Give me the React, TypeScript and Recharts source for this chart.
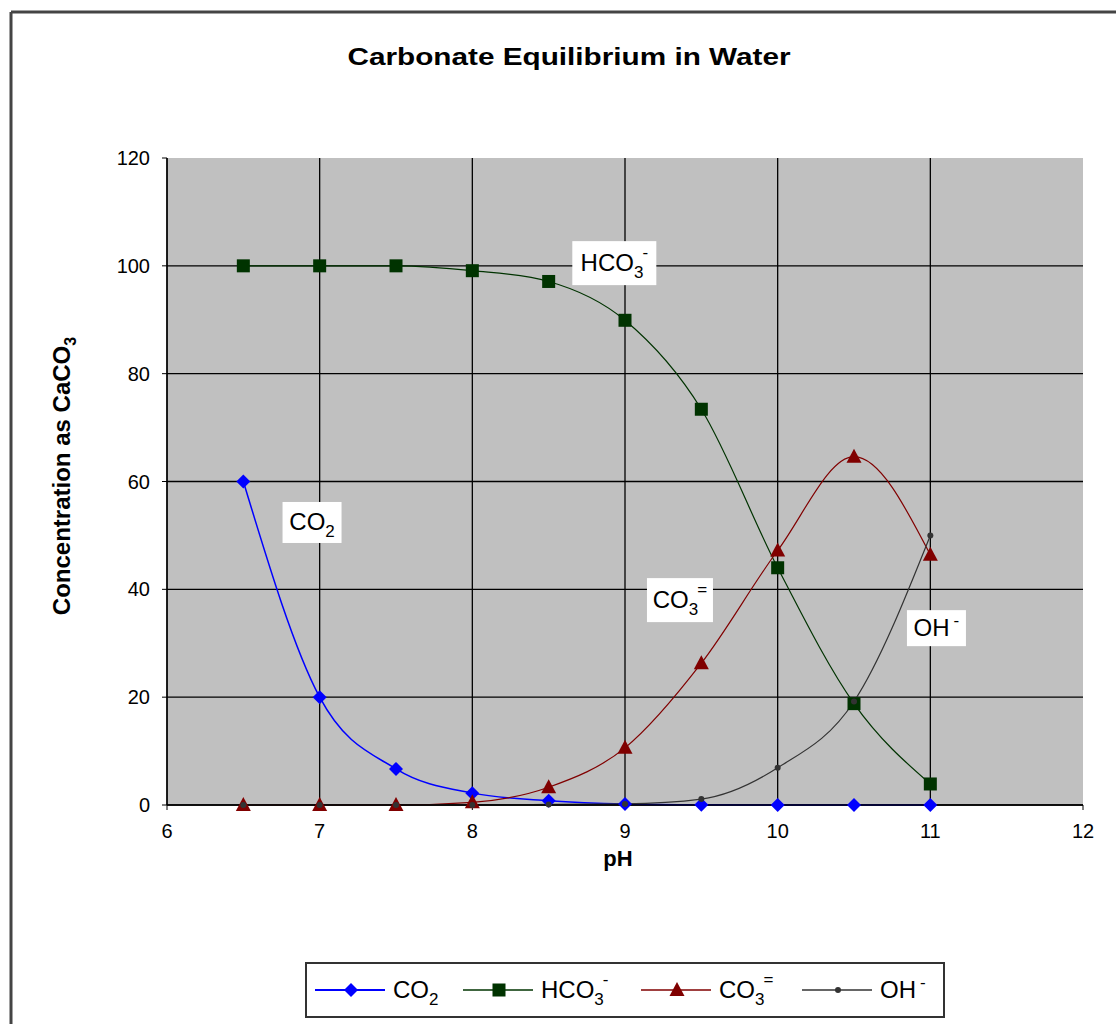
import React from "react"
import {
  LineChart,
  Line,
  XAxis,
  YAxis,
  CartesianGrid,
  Legend,
  ReferenceDot,
} from "recharts"

// pH values sampled
const PH = [6.5, 7, 7.5, 8, 8.5, 9, 9.5, 10, 10.5, 11]

// concentrations (as CaCO3)
const CO2 = [60, 20, 6.7, 2.2, 0.8, 0.2, 0.05, 0, 0, 0]
const HCO3 = [100, 100, 100, 99.1, 97.1, 89.9, 73.4, 44, 18.8, 3.9]
const CO3 = [0, 0, 0, 0.5, 3.3, 10.6, 26.3, 47.2, 64.6, 46.4]
const OH = [0, 0, 0, 0, 0.1, 0.2, 1.1, 6.9, 19.2, 50]

const X_TICKS = [6, 7, 8, 9, 10, 11, 12]
const Y_TICKS = [0, 20, 40, 60, 80, 100, 120]
// grid lines drawn inside the grey area (no line on the top / right edge)
const GRID_X = [6, 7, 8, 9, 10, 11]
const GRID_Y = [0, 20, 40, 60, 80, 100]

// in-plot text boxes, anchored in data units (pH, concentration)
const NOTES = [
  { key: "hco3", x: 8.93, y: 100.5, w: 84, h: 44, base: "HCO", sub: "3", sup: "-" },
  { key: "co2", x: 6.95, y: 52.4, w: 59, h: 41, base: "CO", sub: "2", sup: "" },
  { key: "co3", x: 9.36, y: 38, w: 66, h: 44, base: "CO", sub: "3", sup: "=" },
  { key: "oh", x: 11.04, y: 32.8, w: 59, h: 36, base: "OH", sub: "", sup: "-" },
]

const rows = PH.map((ph, i) => ({
  ph,
  co2: CO2[i],
  hco3: HCO3[i],
  co3: CO3[i],
  oh: OH[i],
}))

const FONT = "'Liberation Sans', Arial, sans-serif"

const BLUE = "#0000ff"
const GREEN = "#003300"
const RED = "#800000"
const GREY = "#333333"

function Diamond({ cx, cy, fill }: any) {
  const s = 7
  return <polygon points={`${cx},${cy - s} ${cx + s},${cy} ${cx},${cy + s} ${cx - s},${cy}`} fill={fill} />
}

function Square({ cx, cy, fill }: any) {
  return <rect x={cx - 6.5} y={cy - 6.5} width={13} height={13} fill={fill} />
}

function Triangle({ cx, cy, fill }: any) {
  return <polygon points={`${cx},${cy - 8} ${cx + 7.5},${cy + 6} ${cx - 7.5},${cy + 6}`} fill={fill} />
}

function SmallDot({ cx, cy, fill }: any) {
  return <circle cx={cx} cy={cy} r={3} fill={fill} />
}

// chemistry-ish label: base + subscript + superscript
function Formula({ x, y, base, sub, sup, size, anchor = "start" }: any) {
  const small = Math.round(size * 0.72)
  return (
    <text x={x} y={y} fontFamily={FONT} fontSize={size} fill="#000" textAnchor={anchor}>
      <tspan>{base}</tspan>
      {sub ? <tspan fontSize={small} dy={7}>{sub}</tspan> : null}
      {sup ? (
        <tspan fontSize={small} dx={sub ? -1 : 4} dy={sub ? -20 : -10}>
          {sup}
        </tspan>
      ) : null}
    </text>
  )
}

function NoteBox(props: any) {
  const { cx, cy, note } = props
  if (cx == null || cy == null) return null
  return (
    <g>
      <rect x={cx - note.w / 2} y={cy - note.h / 2} width={note.w} height={note.h} fill="#fff" />
      <Formula x={cx} y={cy + 8} base={note.base} sub={note.sub} sup={note.sup} size={24} anchor="middle" />
    </g>
  )
}

const LEGEND_ITEMS = [
  { color: BLUE, Mark: Diamond, base: "CO", sub: "2", sup: "", width: 2 },
  { color: GREEN, Mark: Square, base: "HCO", sub: "3", sup: "-", width: 1.5 },
  { color: RED, Mark: Triangle, base: "CO", sub: "3", sup: "=", width: 1.5 },
  { color: GREY, Mark: SmallDot, base: "OH", sub: "", sup: "-", width: 1.5 },
]
const LEGEND_X = [10, 158, 336, 497]

function LegendBox() {
  return (
    <svg width={640} height={56} style={{ display: "block" }}>
      <rect x={1} y={1} width={638} height={54} fill="#fff" stroke="#333" strokeWidth={2} />
      {LEGEND_ITEMS.map((it, i) => {
        const x0 = LEGEND_X[i]
        const Mark = it.Mark
        return (
          <g key={i}>
            <line x1={x0} x2={x0 + 70} y1={28} y2={28} stroke={it.color} strokeWidth={it.width} />
            <Mark cx={x0 + 36} cy={28} fill={it.color} />
            <Formula x={x0 + 78} y={36} base={it.base} sub={it.sub} sup={it.sup} size={24} />
          </g>
        )
      })}
    </svg>
  )
}

const scaleOr = (axis: any, v: number, fallback: number) =>
  axis && typeof axis.scale === "function" ? axis.scale(v) : fallback

export default function App() {
  const tick = { fontSize: 20, fill: "#000", fontFamily: FONT }
  return (
    <div
      style={{
        position: "fixed",
        left: 0,
        top: 0,
        width: 1116,
        height: 1024,
        overflow: "hidden",
        background: "#fff",
      }}
    >
      <LineChart
        width={1116}
        height={1024}
        data={rows}
        margin={{ top: 158, right: 33, left: 107, bottom: 133 }}
      >
        <CartesianGrid
          stroke="#000"
          strokeWidth={1.3}
          fill="#c0c0c0"
          fillOpacity={1}
          verticalCoordinatesGenerator={({ xAxis, offset }: any) =>
            GRID_X.map((v) => scaleOr(xAxis, v, offset.left + (offset.width * (v - 6)) / 6))
          }
          horizontalCoordinatesGenerator={({ yAxis, offset }: any) =>
            GRID_Y.map((v) => scaleOr(yAxis, v, offset.top + offset.height * (1 - v / 120)))
          }
        />
        <XAxis
          type="number"
          dataKey="ph"
          domain={[6, 12]}
          ticks={X_TICKS}
          height={30}
          tick={tick}
          tickSize={5}
          tickMargin={14}
          axisLine={{ stroke: "#000", strokeWidth: 1.3 }}
          tickLine={{ stroke: "#000" }}
        />
        <YAxis
          domain={[0, 120]}
          ticks={Y_TICKS}
          width={60}
          tick={tick}
          tickSize={5}
          tickMargin={12}
          axisLine={{ stroke: "#000", strokeWidth: 1.3 }}
          tickLine={{ stroke: "#000" }}
        />
        <Line
          type="monotone"
          dataKey="co2"
          stroke={BLUE}
          strokeWidth={1.5}
          dot={(p: any) => <Diamond key={p.index} cx={p.cx} cy={p.cy} fill={BLUE} />}
          isAnimationActive={false}
        />
        <Line
          type="monotone"
          dataKey="hco3"
          stroke={GREEN}
          strokeWidth={1.2}
          dot={(p: any) => <Square key={p.index} cx={p.cx} cy={p.cy} fill={GREEN} />}
          isAnimationActive={false}
        />
        <Line
          type="monotone"
          dataKey="co3"
          stroke={RED}
          strokeWidth={1.2}
          dot={(p: any) => <Triangle key={p.index} cx={p.cx} cy={p.cy} fill={RED} />}
          isAnimationActive={false}
        />
        <Line
          type="monotone"
          dataKey="oh"
          stroke={GREY}
          strokeWidth={1.2}
          dot={(p: any) => <SmallDot key={p.index} cx={p.cx} cy={p.cy} fill={GREY} />}
          isAnimationActive={false}
        />
        {NOTES.map((n) => (
          <ReferenceDot
            key={n.key}
            x={n.x}
            y={n.y}
            r={0}
            ifOverflow="visible"
            shape={(p: any) => <NoteBox {...p} note={n} />}
          />
        ))}
        <Legend
          content={() => <LegendBox />}
          wrapperStyle={{ position: "absolute", left: 305, top: 962, width: 640, height: 56 }}
        />
      </LineChart>

      {/* frame, title and axis titles */}
      <svg
        width={1116}
        height={1024}
        style={{ position: "absolute", left: 0, top: 0, pointerEvents: "none" }}
      >
        <line x1={11} y1={12} x2={1116} y2={12} stroke="#444" strokeWidth={3} />
        <line x1={11} y1={12} x2={11} y2={1024} stroke="#444" strokeWidth={3} />
        <text
          x={569}
          y={65}
          textAnchor="middle"
          fontFamily={FONT}
          fontSize={24}
          fontWeight="bold"
          fill="#000"
          textLength={443}
          lengthAdjust="spacingAndGlyphs"
        >
          Carbonate Equilibrium in Water
        </text>
        <text
          x={618}
          y={866}
          textAnchor="middle"
          fontFamily={FONT}
          fontSize={22}
          fontWeight="bold"
          fill="#000"
        >
          pH
        </text>
        <text
          transform="translate(70, 476) rotate(-90)"
          textAnchor="middle"
          fontFamily={FONT}
          fontSize={24}
          fontWeight="bold"
          fill="#000"
        >
          <tspan>Concentration as CaCO</tspan>
          <tspan fontSize={16} dy={6}>3</tspan>
        </text>
      </svg>
    </div>
  )
}
